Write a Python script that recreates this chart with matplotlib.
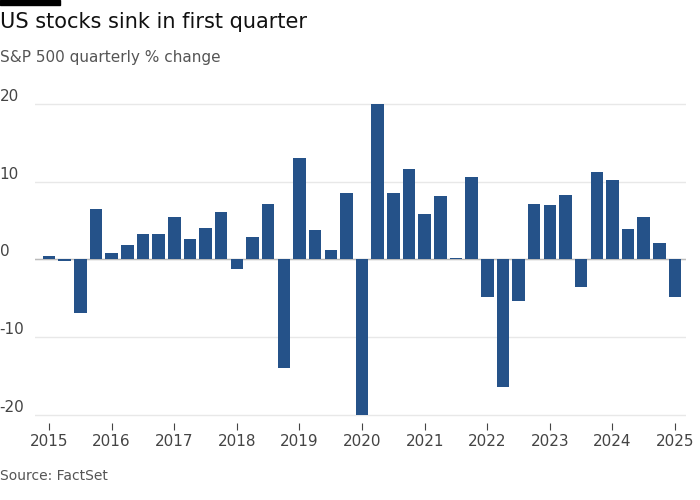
import matplotlib
matplotlib.use("Agg")
import matplotlib.pyplot as plt
import matplotlib.patches as mpatches

years = list(range(2015, 2026))
values = [0.4, -0.2, -6.9, 6.5,
          0.8, 1.9, 3.3, 3.3,
          5.5, 2.6, 4.0, 6.1,
          -1.2, 2.9, 7.2, -14.0,
          13.1, 3.8, 1.2, 8.5,
          -20.0, 20.0, 8.5, 11.7,
          5.8, 8.2, 0.2, 10.6,
          -4.9, -16.4, -5.3, 7.1,
          7.0, 8.3, -3.6, 11.2,
          10.2, 3.9, 5.5, 2.1,
          -4.8]
yticks = [-20, -10, 0, 10, 20]

fig = plt.figure(figsize=(7, 5), dpi=100)
ax = fig.add_axes([0.05, 0.155, 0.93, 0.66])
x = list(range(len(values)))
ax.bar(x, values, width=0.8, color="#255289", zorder=3)
ax.set_xlim(-0.9, len(values) - 0.3)
ax.set_ylim(-21, 21.5)
ax.set_yticks(yticks)
ax.set_yticklabels([str(t) for t in yticks])
ax.set_xticks([4 * i for i in range(len(years))])
ax.set_xticklabels([str(y) for y in years])
ax.grid(axis="y", color="#e8e8e8", lw=1, zorder=0)
ax.axhline(0, color="#bbbbbb", lw=1, zorder=2)
for s in ax.spines.values():
    s.set_visible(False)
ax.tick_params(axis="y", length=0, labelsize=11, colors="#444444", pad=-20)
for lab in ax.get_yticklabels():
    lab.set_horizontalalignment("left")
    lab.set_verticalalignment("bottom")
ax.tick_params(axis="x", length=5, color="#444444", labelsize=11, colors="#444444")
ax.yaxis.set_tick_params(pad=2)
for lab in ax.get_yticklabels():
    lab.set_x(-0.05)

fig.patches.append(mpatches.Rectangle((0, 0.99), 0.085, 0.01, transform=fig.transFigure, color="black"))
fig.text(0.0, 0.935, "US stocks sink in first quarter", fontsize=15, color="#111111", va="bottom")
fig.text(0.0, 0.87, "S&P 500 quarterly % change", fontsize=11, color="#555555", va="bottom")
fig.text(0.0, 0.035, "Source: FactSet", fontsize=10, color="#555555", va="bottom")
fig.savefig("out.png", dpi=100, facecolor="white")
